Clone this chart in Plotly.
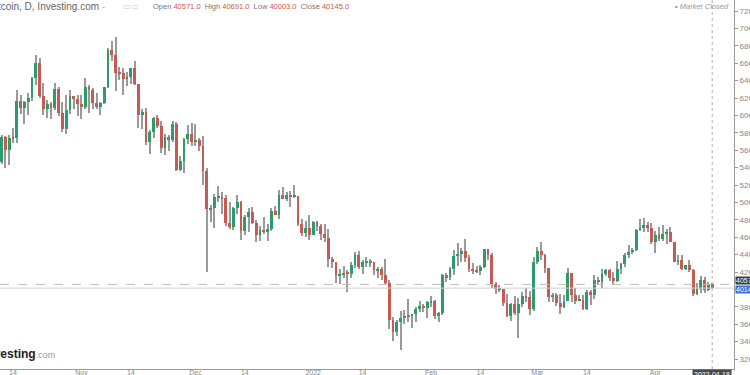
import pandas as pd
import plotly.graph_objects as go

# ---------------- data (Bitcoin daily, USD) ----------------
dates = pd.date_range("2021-10-10", "2022-04-16", freq="D")

opens = [
    # Oct 10-31
    54950, 54680, 57480, 56010, 57370, 57350, 61670, 60880, 61530, 62040, 64280,
    66000, 62210, 60690, 61300, 60860, 63080, 60330, 58450, 60590, 62270, 61860,
    # Nov
    61320, 60930, 63230, 62940, 61400, 61010, 61470, 63280, 67530, 66940,
    64900, 64820, 64150, 64380, 65500, 63600, 60080, 60350, 56890, 58120,
    59750, 58740, 56290, 57570, 57160, 58960, 53730, 54740, 57290, 57810,
    # Dec
    56950, 57200, 56500, 53600, 49200, 49400, 50600, 50600, 50500, 47600,
    47150, 49400, 50100, 46700, 48300, 48900, 47600, 46200, 46800, 46700,
    46900, 49000, 48600, 50800, 50400, 50800, 50700, 50700, 47500, 46500, 47100,
    # Jan
    46200, 47700, 47300, 46400, 45900, 43500, 43100, 41600, 41700, 41900,
    41800, 42800, 43900, 42600, 43100, 43100, 43100, 42200, 42400, 41700,
    40700, 36500, 35100, 36300, 36700, 37000, 36900, 37200, 37700, 38100, 37900,
    # Feb
    38500, 38700, 36900, 37300, 41600, 41400, 42400, 43800, 44100, 44400,
    43600, 42400, 42200, 42100, 42600, 44600, 43900, 40600, 40000, 40100,
    38400, 37000, 38300, 37300, 38300, 39200, 39100, 37700,
    # Mar
    43200, 44400, 44000, 42500, 39100, 39400, 38400, 38000, 38700, 41900,
    39400, 38700, 38800, 37800, 39700, 39300, 41100, 40900, 41800, 42200,
    41300, 41000, 42400, 42900, 44000, 44300, 44500, 46800, 47100, 47400, 47100,
    # Apr 1-16
    45500, 46300, 45800, 46400, 46600, 45500, 43200, 43400, 42300, 42800,
    42200, 39500, 40100, 41100, 39900, 40571,
]
highs = [
    56500, 57800, 57680, 57700, 58500, 62900, 62300, 61700, 62600, 64440, 67000,
    66600, 63700, 61740, 61490, 63700, 63290, 61490, 62400, 62900, 62270, 62400,
    62400, 64250, 63500, 63100, 62600, 61580, 63280, 67750, 68520, 68990,
    65590, 65440, 64950, 65500, 66300, 63600, 60750, 60900, 58350, 59800,
    60030, 59300, 57860, 57700, 59400, 59200, 55300, 57400, 58850, 59180,
    59000, 57400, 57600, 53900, 49700, 51000, 51900, 51200, 50800, 50100,
    49500, 50800, 50200, 48600, 49400, 49500, 48000, 47300, 48300, 47500,
    49300, 49600, 51400, 51800, 51200, 51300, 52000, 50700, 48100, 47900, 48500,
    47900, 47900, 47500, 47500, 47000, 43700, 43100, 42300, 42700, 42200,
    43100, 44300, 44400, 43400, 43700, 43500, 43200, 42600, 42600, 43500,
    41100, 36800, 36500, 37500, 37600, 38900, 37200, 38000, 38700, 38300, 38700,
    39200, 38800, 37400, 41800, 41900, 42600, 44500, 45300, 44800, 45800,
    43900, 43000, 42700, 42800, 44700, 44600, 44200, 40900, 40500, 40100,
    39500, 38400, 39200, 39000, 39700, 40200, 39800, 43700,
    44900, 45400, 44100, 42500, 39600, 39600, 39500, 39400, 42500, 41900,
    40200, 39300, 39300, 39900, 39900, 41700, 41400, 42300, 42400, 42300,
    42000, 43300, 43000, 44200, 45100, 44800, 46900, 48100, 48200, 47700, 47600,
    46700, 47200, 47400, 46900, 47200, 45500, 43900, 43900, 42800, 43400,
    42400, 40700, 41500, 41400, 40800, 40691,
]
lows = [
    54100, 54440, 53900, 54300, 56850, 56850, 60150, 58960, 60000, 61640, 63500,
    62000, 60000, 59700, 59600, 60670, 59880, 58100, 57820, 60200, 60700, 59900,
    59600, 60700, 60300, 60700, 60750, 60050, 61350, 63100, 66300, 62800,
    64100, 62300, 63400, 63600, 63500, 58600, 58400, 56600, 55600, 57400,
    58500, 55650, 55400, 55900, 57000, 53600, 53600, 53400, 56700, 56500,
    56500, 55900, 52000, 42000, 47700, 47100, 50000, 48700, 47300, 46900,
    46800, 48700, 45700, 46300, 46600, 47500, 45500, 45600, 46400, 45600,
    46700, 48500, 48100, 50400, 50200, 49500, 50500, 47300, 46100, 46000, 45700,
    46200, 46700, 45700, 45500, 42600, 42500, 40700, 40600, 41300, 39700,
    41300, 42500, 42300, 41800, 42600, 42600, 41600, 41300, 41100, 40600,
    35500, 34100, 34600, 33000, 36000, 36300, 35600, 36200, 37400, 37400, 36700,
    38000, 36600, 36300, 37100, 40900, 41100, 41700, 42700, 43200, 43200,
    42000, 41800, 41900, 41600, 42500, 43400, 40200, 39500, 39700, 38100,
    36800, 36400, 37100, 34400, 38000, 38600, 37100, 37500,
    42900, 43400, 41900, 38600, 38600, 38100, 37200, 37900, 38700, 38600,
    38300, 38700, 37600, 37600, 38200, 38900, 40600, 40200, 41500, 41000,
    40500, 40900, 41800, 42600, 43600, 44100, 44400, 46700, 46600, 46600, 45200,
    44200, 45600, 45600, 45200, 45400, 43100, 42800, 42200, 42200, 42000,
    39200, 39300, 39600, 39600, 39800, 40003,
]
closes = [
    54680, 57480, 56010, 57370, 57350, 61670, 60880, 61530, 62040, 64280, 66000,
    62210, 60690, 61300, 60860, 63080, 60330, 58450, 60590, 62270, 61860, 61320,
    60930, 63230, 62940, 61400, 61010, 61470, 63280, 67530, 66940, 64900,
    64820, 64150, 64380, 65500, 63600, 60080, 60350, 56890, 58120, 59750,
    58740, 56290, 57570, 57160, 58960, 53730, 54740, 57290, 57810, 56950,
    57200, 56500, 53600, 49200, 49400, 50600, 50600, 50500, 47600, 47150,
    49400, 50100, 46700, 48300, 48900, 47600, 46200, 46800, 46700, 46900,
    49000, 48600, 50800, 50400, 50800, 50700, 50700, 47500, 46500, 47100, 46200,
    47700, 47300, 46400, 45900, 43500, 43100, 41600, 41700, 41900, 41800,
    42800, 43900, 42600, 43100, 43100, 43100, 42200, 42400, 41700, 40700,
    36500, 35100, 36300, 36700, 37000, 36900, 37200, 37700, 38100, 37900, 38500,
    38700, 36900, 37300, 41600, 41400, 42400, 43800, 44100, 44400, 43600,
    42400, 42200, 42100, 42600, 44600, 43900, 40600, 40000, 40100, 38400,
    37000, 38300, 37300, 38300, 39200, 39100, 37700, 43200,
    44400, 44000, 42500, 39100, 39400, 38400, 38000, 38700, 41900, 39400,
    38700, 38800, 37800, 39700, 39300, 41100, 40900, 41800, 42200, 41300,
    41000, 42400, 42900, 44000, 44300, 44500, 46800, 47100, 47400, 47100, 45500,
    46300, 45800, 46400, 46600, 45500, 43200, 43400, 42300, 42800, 42200,
    39500, 40100, 41100, 39900, 40571, 40145,
]
assert len(opens) == len(highs) == len(lows) == len(closes) == len(dates)

tick_dates = ["2021-10-14", "2021-11-01", "2021-11-14", "2021-12-01", "2021-12-14",
              "2022-01-01", "2022-01-14", "2022-02-01", "2022-02-14", "2022-03-01",
              "2022-03-14", "2022-04-01"]
tick_text = ["14", "Nov", "14", "Dec", "14", "2022", "14", "Feb", "14", "Mar", "14", "Apr"]
price_ticks = list(range(32000, 72001, 2000))

last_open, last_high, last_low, last_close = 40571.0, 40691.0, 40003.0, 40145.0
cursor_label = "2022-04-18"

# ---------------- styling ----------------
UP = "#2a9d6a"
DOWN = "#c95a52"
WICK = "#9a9a9a"
FONT = "Liberation Sans"
DAY_MS = 24 * 3600 * 1000

colors = [UP if c >= o else DOWN for o, c in zip(opens, closes)]
body_base = [min(o, c) for o, c in zip(opens, closes)]
body_h = [max(abs(c - o), 70) for o, c in zip(opens, closes)]
wick_h = [h - l for h, l in zip(highs, lows)]

fig = go.Figure()
fig.add_trace(go.Bar(x=dates, y=wick_h, base=lows, width=0.27 * DAY_MS,
                     marker=dict(color=WICK, line=dict(width=0)),
                     hoverinfo="skip", showlegend=False))
fig.add_trace(go.Bar(x=dates, y=body_h, base=body_base, width=0.78 * DAY_MS,
                     marker=dict(color=colors, line=dict(width=0)),
                     hoverinfo="skip", showlegend=False))

x0 = pd.Timestamp("2021-10-14") - pd.Timedelta(days=13 / 3.8)
x1 = pd.Timestamp("2021-10-14") + pd.Timedelta(days=721 / 3.8)
last_date = dates[-1]

fig.update_layout(
    template="none",
    width=750, height=375,
    margin=dict(l=0, r=16, t=0, b=6),
    paper_bgcolor="white", plot_bgcolor="white",
    barmode="overlay", bargap=0,
    font=dict(family=FONT, color="#777", size=8),
    xaxis=dict(type="date", range=[x0, x1], showgrid=False, zeroline=False,
               tickvals=tick_dates, ticktext=tick_text, ticks="", ticklen=0,
               ticklabelstandoff=-3,
               tickfont=dict(size=7, color="#888"),
               showline=True, linecolor="#9a9a9a", linewidth=1),
    yaxis=dict(side="right", range=[30851, 73264], showgrid=False, zeroline=False,
               tickvals=price_ticks, ticktext=[f"{v:.1f}" for v in price_ticks],
               ticks="outside", ticklen=3, tickcolor="#9a9a9a",
               tickfont=dict(size=8, color="#888"),
               showline=True, linecolor="#9a9a9a", linewidth=1),
    shapes=[
        dict(type="line", xref="paper", x0=0, x1=1, yref="y", y0=last_open, y1=last_open,
             line=dict(color="#bdbdbd", width=1, dash="dash")),
        dict(type="line", xref="paper", x0=0, x1=1, yref="y", y0=last_close, y1=last_close,
             line=dict(color="#d0d0d0", width=1)),
        dict(type="line", xref="x", x0=last_date, x1=last_date, yref="paper", y0=0, y1=1,
             line=dict(color="#b0b0b0", width=1, dash="dot")),
    ],
)

plot_w = 734
fig.add_annotation(xref="paper", yref="paper", x=-13 / plot_w, y=1, xanchor="left",
                   yanchor="top", yshift=1, showarrow=False,
                   text="Bitcoin, D, Investing.com <span style='color:#bbb'>-</span>",
                   font=dict(family=FONT, size=10, color="#666"))
fig.add_annotation(xref="paper", yref="paper", x=121 / plot_w, y=1, xanchor="left",
                   yanchor="top", yshift=0, showarrow=False,
                   text="<span style='color:#ccc'>▭▭</span>",
                   font=dict(family=FONT, size=8, color="#ccc"))
val = lambda v: f"<span style='color:{DOWN}'>{v:.1f}</span>"
ohlc = (f"Open {val(last_open)}&nbsp; High {val(last_high)}&nbsp; "
        f"Low {val(last_low)}&nbsp; Close {val(last_close)}")
fig.add_annotation(xref="paper", yref="paper", x=151 / plot_w, y=1, xanchor="left",
                   yanchor="top", yshift=0, showarrow=False, text=ohlc,
                   font=dict(family=FONT, size=7.5, color="#777"))
fig.add_annotation(xref="paper", yref="paper", x=731 / plot_w, y=1, xanchor="right",
                   yanchor="top", yshift=0, showarrow=False,
                   text="<span style='color:#888'>•</span> <i>Market Closed</i>",
                   font=dict(family=FONT, size=7.5, color="#999"))
fig.add_annotation(xref="paper", yref="paper", x=-19 / plot_w, y=0, xanchor="left",
                   yanchor="bottom", yshift=6, showarrow=False,
                   text="<b>Investing</b><span style='color:#999;font-size:9px'>.com</span>",
                   font=dict(family=FONT, size=12, color="#222"))
fig.add_annotation(xref="x", yref="paper", x=last_date, y=0, xanchor="center",
                   yanchor="top", showarrow=False, text=cursor_label,
                   bgcolor="#4a4a4a", borderpad=1,
                   font=dict(family=FONT, size=7, color="white"))
fig.add_annotation(xref="paper", yref="y", x=1, y=last_open, xanchor="left",
                   yanchor="bottom", xshift=1, yshift=-1, showarrow=False,
                   text=f"{last_open:.1f}", bgcolor="#3c3c3c", borderpad=0,
                   font=dict(family=FONT, size=7, color="white"))
fig.add_annotation(xref="paper", yref="y", x=1, y=last_close, xanchor="left",
                   yanchor="top", xshift=1, yshift=3, showarrow=False,
                   text=f"{last_close:.1f}", bgcolor="#3d6fd6", borderpad=0,
                   font=dict(family=FONT, size=7, color="white"))

fig.write_html("out.html", config={"displayModeBar": False},
               post_script="document.body.style.margin='0px';"
                           "document.body.style.overflow='hidden';")
